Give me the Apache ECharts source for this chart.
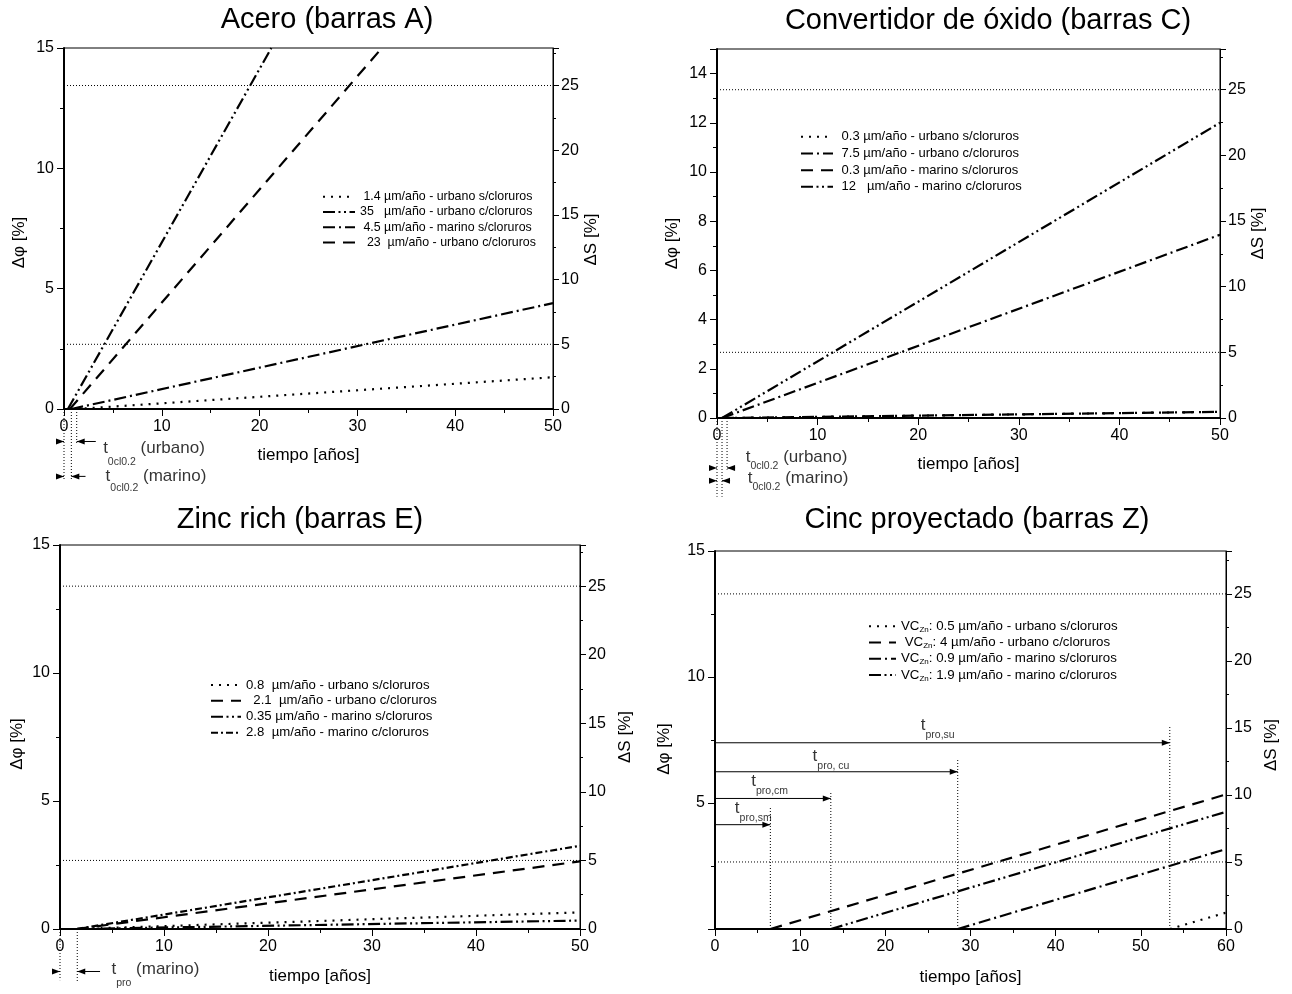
<!DOCTYPE html>
<html lang="es">
<head>
<meta charset="utf-8">
<title>Variación de Δφ y ΔS en el tiempo</title>
<script src="https://cdn.jsdelivr.net/npm/echarts@6.0.0/dist/echarts.min.js"></script>
<style>
  html, body { margin: 0; padding: 0; background: #fff; }
  #graficos { width: 1292px; height: 994px; }
</style>
</head>
<body>
<div id="graficos"></div>
<script type="text/javascript">
/* ---------- datos ---------- */
var titulos = ['Acero (barras A)', 'Convertidor de óxido (barras C)', 'Zinc rich (barras E)', 'Cinc proyectado (barras Z)'];
var tiempoMax = [50, 50, 50, 60];
var phiMax = [15, 15, 15, 15];
var phiIntervalo = [5, 2, 5, 5];
var dsMax = [27.9, 28.1, 28, 28.2];
var limitesDS = [5, 25];

// Acero (barras A): [tiempo, Δφ]
var aceroNombres = [' 1.4 µm/año - urbano s/cloruros', '35   µm/año - urbano c/cloruros', ' 4.5 µm/año - marino s/cloruros', '  23  µm/año - urbano c/cloruros'];
var aceroUrbanoS = [[1.3, 0], [50, 1.32]];
var aceroUrbanoC35 = [[0.4, 0], [21.2, 15]];
var aceroMarinoS = [[0.75, 0], [50, 4.4]];
var aceroUrbanoC23 = [[0.6, 0], [32.5, 15]];
var aceroT0cl = [1.3, 0.75]; // urbano, marino

// Convertidor de óxido (barras C)
var convNombres = [' 0.3 µm/año - urbano s/cloruros', ' 7.5 µm/año - urbano c/cloruros', ' 0.3 µm/año - marino s/cloruros', ' 12   µm/año - marino c/cloruros'];
var convUrbanoS = [[1.0, 0], [50, 0.25]];
var convUrbanoC = [[0.5, 0], [50, 7.45]];
var convMarinoS = [[0.5, 0], [50, 0.25]];
var convMarinoC = [[0.5, 0], [50, 12.0]];
var convT0cl = [1.0, 0.5];

// Zinc rich (barras E)
var zincNombres = ['0.8  µm/año - urbano s/cloruros', '  2.1  µm/año - urbano c/cloruros', '0.35 µm/año - marino s/cloruros', '2.8  µm/año - marino c/cloruros'];
var zincUrbanoS = [[1.6, 0], [50, 0.65]];
var zincUrbanoC = [[1.6, 0], [50, 2.64]];
var zincMarinoS = [[1.6, 0], [50, 0.33]];
var zincMarinoC = [[1.6, 0], [50, 3.25]];
var zincTpro = 1.66;

// Cinc proyectado (barras Z)
var cincNombres = ['VCZn: 0.5 µm/año - urbano s/cloruros', ' VCZn: 4 µm/año - urbano c/cloruros', 'VCZn: 0.9 µm/año - marino s/cloruros', 'VCZn: 1.9 µm/año - marino c/cloruros'];
var cincUrbanoS = [[53.4, 0], [60, 0.65]];
var cincUrbanoC = [[6.5, 0], [60, 5.34]];
var cincMarinoS = [[28.5, 0], [60, 3.17]];
var cincMarinoC = [[13.6, 0], [60, 4.65]];
var cincTpro = [6.5, 13.6, 28.5, 53.4];          // sm, cm, cu, su
var cincTproNombres = ['pro,sm', 'pro,cm', 'pro, cu', 'pro,su'];
var cincFlechaPhi = [4.14, 5.18, 6.24, 7.39];     // altura de cada flecha
var cincGuiaPhi = [4.82, 5.46, 6.73, 8.05];       // tope de cada vertical

/* ---------- maquetación ---------- */
var fuente = "'Liberation Sans', Arial, Helvetica, sans-serif";
var negro = '#000';
var rejillas = [
  { left: 64, top: 48, width: 489, height: 361 },
  { left: 717, top: 49, width: 503, height: 369 },
  { left: 60, top: 545, width: 520, height: 384 },
  { left: 715, top: 551, width: 511, height: 378 }
];
var tituloCentro = [[327, 20], [988, 21], [300, 520], [977, 520]];
var leyendas = [
  { left: 322, top: 189, paso: 15.3, tam: 12.4, ancho: 32 },
  { left: 800, top: 128.4, paso: 16.7, tam: 13, ancho: 32 },
  { left: 210, top: 677, paso: 15.9, tam: 13.2, ancho: 30 },
  { left: 868, top: 618, paso: 16.3, tam: 13.3, ancho: 27 }
];
var gapX = [38, 38, 39, 40];
var gapIzq = [36, 36, 34, 42];
var gapDer = [29, 28, 37, 37];
var bajaIzq = [14, 10, 7, 9];
var bajaDer = [11, 0, 0, 5];
var etiquetasCinc = [[2.27, 4.8], [4.2, 5.86], [11.4, 6.85], [24.1, 8.1]];

var trazos = {
  punto: [2, 6],
  raya: [12, 8],
  rayaPunto: [12, 4, 2, 4],
  rayaPuntoPunto: [12, 3.5, 2, 3.5, 2, 3.5],
  fino: [1, 2]
};

/* ---------- series ---------- */
function curva(g, nombre, datos, trazo) {
  return { name: nombre, type: 'line', xAxisIndex: g, yAxisIndex: 2 * g, data: datos,
    symbol: 'none', silent: true, z: 3,
    lineStyle: { color: negro, width: 2.2, type: trazo }, itemStyle: { color: negro } };
}
function guia(g, eje, datos) {
  return { type: 'line', xAxisIndex: g, yAxisIndex: eje, data: datos, symbol: 'none',
    silent: true, clip: false, z: 2, lineStyle: { color: negro, width: 1, type: trazos.fino } };
}
function flecha(g, desde, hasta, y) {
  var derecha = hasta > desde;
  return { type: 'line', xAxisIndex: g, yAxisIndex: 2 * g, data: [[desde, y], [hasta, y]],
    clip: false, silent: true, z: 4, showSymbol: true,
    symbol: function (v, p) { return p.dataIndex === 1 ? 'triangle' : 'none'; },
    symbolSize: [6, 8], symbolRotate: derecha ? -90 : 90, symbolOffset: [derecha ? -4 : 4, 0],
    lineStyle: { color: negro, width: 1 }, itemStyle: { color: negro } };
}
function texto(g, x, y, fmt, bajada) {
  return { type: 'scatter', xAxisIndex: g, yAxisIndex: 2 * g, data: [[x, y]], symbolSize: 1,
    clip: false, silent: true, z: 5, itemStyle: { color: 'rgba(0,0,0,0)' },
    label: { show: true, position: 'right', distance: 0, formatter: fmt, color: negro,
      rich: {
        t: { fontSize: 17, fontFamily: fuente, color: negro },
        s: { fontSize: 10.5, fontFamily: fuente, color: negro, padding: [bajada, 0, 0, 0] },
        n: { fontSize: 17, fontFamily: fuente, color: negro }
      } } };
}

var series = [];
series.push(curva(0, aceroNombres[0], aceroUrbanoS, trazos.punto));
series.push(curva(0, aceroNombres[1], aceroUrbanoC35, trazos.rayaPuntoPunto));
series.push(curva(0, aceroNombres[2], aceroMarinoS, trazos.rayaPunto));
series.push(curva(0, aceroNombres[3], aceroUrbanoC23, trazos.raya));

series.push(curva(1, convNombres[0], convUrbanoS, trazos.punto));
series.push(curva(1, convNombres[1], convUrbanoC, trazos.rayaPunto));
series.push(curva(1, convNombres[2], convMarinoS, trazos.raya));
series.push(curva(1, convNombres[3], convMarinoC, trazos.rayaPuntoPunto));

series.push(curva(2, zincNombres[0], zincUrbanoS, trazos.punto));
series.push(curva(2, zincNombres[1], zincUrbanoC, trazos.raya));
series.push(curva(2, zincNombres[2], zincMarinoS, trazos.rayaPuntoPunto));
series.push(curva(2, zincNombres[3], zincMarinoC, [7, 3, 2, 3]));

series.push(curva(3, cincNombres[0], cincUrbanoS, trazos.punto));
series.push(curva(3, cincNombres[1], cincUrbanoC, trazos.raya));
series.push(curva(3, cincNombres[2], cincMarinoS, trazos.rayaPunto));
series.push(curva(3, cincNombres[3], cincMarinoC, trazos.rayaPuntoPunto));

// líneas de ΔS = 5 % y 25 %
for (var g = 0; g < 4; g++) {
  limitesDS.forEach(function (lim) {
    series.push(guia(g, 2 * g + 1, [[0, lim], [tiempoMax[g], lim]]));
  });
}

// Acero: t0cl0.2
series.push(guia(0, 0, [[0, 0], [0, -2.95]]));
series.push(guia(0, 0, [[aceroT0cl[1], 0], [aceroT0cl[1], -2.95]]));
series.push(guia(0, 0, [[aceroT0cl[0], 0], [aceroT0cl[0], -1.45]]));
series.push(flecha(0, -1.2, 0, -1.35), flecha(0, 3.25, aceroT0cl[0], -1.35));
series.push(flecha(0, -1.0, 0, -2.8), flecha(0, 2.2, aceroT0cl[1], -2.8));
series.push(texto(0, 3.95, -1.65, '{t|t}{s|0cl0.2}{n| (urbano)}', 26));
series.push(texto(0, 4.2, -2.8, '{t|t}{s|0cl0.2}{n| (marino)}', 24));

// Convertidor: t0cl0.2
series.push(guia(1, 2, [[0, 0], [0, -3.2]]));
series.push(guia(1, 2, [[convT0cl[1], 0], [convT0cl[1], -3.2]]));
series.push(guia(1, 2, [[convT0cl[0], 0], [convT0cl[0], -2.1]]));
series.push(flecha(1, -1.16, 0, -2.03), flecha(1, 1.8, convT0cl[0], -2.03));
series.push(flecha(1, -1.4, 0, -2.55), flecha(1, 1.3, convT0cl[1], -2.55));
series.push(texto(1, 2.8, -1.58, '{t|t}{s|0cl0.2}{n| (urbano)}', 19));
series.push(texto(1, 3.0, -2.44, '{t|t}{s|0cl0.2}{n| (marino)}', 19));

// Zinc rich: tpro
series.push(guia(2, 4, [[0, 0], [0, -2.0]]));
series.push(guia(2, 4, [[zincTpro, 0], [zincTpro, -2.05]]));
series.push(flecha(2, -1.76, 0, -1.66), flecha(2, 3.85, zincTpro, -1.66));
series.push(texto(2, 4.9, -1.56, '{t|t}{s|pro}{n| (marino)}', 28));

// Cinc proyectado: tiempos de protección
cincTpro.forEach(function (t, k) {
  series.push(guia(3, 6, [[t, 0], [t, cincGuiaPhi[k]]]));
  series.push(flecha(3, 0, t, cincFlechaPhi[k]));
  series.push(texto(3, etiquetasCinc[k][0], etiquetasCinc[k][1], '{t|t}{s|' + cincTproNombres[k] + '}', 20));
});

/* ---------- ejes ---------- */
var xAxis = [], yAxis = [];
for (var i = 0; i < 4; i++) {
  xAxis.push({
    gridIndex: i, type: 'value', min: 0, max: tiempoMax[i], interval: 10,
    name: 'tiempo [años]', nameLocation: 'middle', nameGap: gapX[i],
    nameTextStyle: { fontSize: 17, color: negro, fontFamily: fuente },
    axisLine: { onZero: false, lineStyle: { color: negro, width: 2 } },
    axisTick: { length: 7, lineStyle: { color: negro } },
    minorTick: { show: true, splitNumber: 2, length: 4, lineStyle: { color: negro } },
    axisLabel: { color: negro, fontSize: 16, fontFamily: fuente, margin: 10 },
    splitLine: { show: false }
  });
  yAxis.push({
    gridIndex: i, type: 'value', position: 'left', min: 0, max: phiMax[i], interval: phiIntervalo[i],
    name: 'Δφ [%]', nameLocation: 'middle', nameRotate: 90, nameGap: gapIzq[i],
    nameTextStyle: { fontSize: 17, color: negro, fontFamily: fuente, padding: [0, 2 * bajaIzq[i], 0, 0] },
    axisLine: { show: true, onZero: false, lineStyle: { color: negro, width: 2 } },
    axisTick: { show: true, length: 7, lineStyle: { color: negro } },
    minorTick: { show: true, splitNumber: 2, length: 4, lineStyle: { color: negro } },
    axisLabel: { color: negro, fontSize: 16, fontFamily: fuente, margin: 10,
      showMaxLabel: i !== 1, showMinLabel: i !== 3 },
    splitLine: { show: false }
  });
  yAxis.push({
    gridIndex: i, type: 'value', position: 'right', min: 0, max: dsMax[i], interval: 5,
    name: 'ΔS [%]', nameLocation: 'middle', nameRotate: 90, nameGap: gapDer[i],
    nameTextStyle: { fontSize: 17, color: negro, fontFamily: fuente, padding: [0, 2 * bajaDer[i], 0, 0] },
    axisLine: { show: true, onZero: false, lineStyle: { color: negro, width: 1 } },
    axisTick: { show: true, length: 6, lineStyle: { color: negro } },
    minorTick: { show: true, splitNumber: 2, length: 3, lineStyle: { color: negro } },
    axisLabel: { color: negro, fontSize: 16, fontFamily: fuente, margin: 8, showMaxLabel: false },
    splitLine: { show: false }
  });
}

var nombresLeyenda = [aceroNombres, convNombres, zincNombres, cincNombres];
var legend = leyendas.map(function (l, g) {
  return {
    orient: 'vertical', left: l.left, top: l.top, padding: 0, itemGap: 0,
    itemWidth: l.ancho, itemHeight: 10, selectedMode: false, data: nombresLeyenda[g],
    itemStyle: { opacity: 0 },
    formatter: function (n) { return n.replace('VCZn', 'VC{z|Zn}'); },
    textStyle: { fontSize: l.tam, lineHeight: l.paso, color: negro, fontFamily: fuente,
      rich: { z: { fontSize: 8, fontFamily: fuente, color: negro, padding: [7, 0, 0, 0] } } }
  };
});

var graphic = titulos.map(function (t, k) {
  return { type: 'text', x: tituloCentro[k][0], y: tituloCentro[k][1], silent: true,
    style: { text: t, fontSize: 29, fontFamily: fuente, fill: negro,
      align: 'center', verticalAlign: 'middle', textAlign: 'center', textVerticalAlign: 'middle' } };
});

var grafico = echarts.init(document.getElementById('graficos'));
grafico.setOption({
  animation: false,
  backgroundColor: '#fff',
  grid: rejillas.map(function (r) {
    return { left: r.left, top: r.top, width: r.width, height: r.height,
      show: true, borderColor: negro, borderWidth: 1, backgroundColor: 'transparent' };
  }),
  xAxis: xAxis,
  yAxis: yAxis,
  legend: legend,
  graphic: graphic,
  series: series
});
</script>
</body>
</html>
